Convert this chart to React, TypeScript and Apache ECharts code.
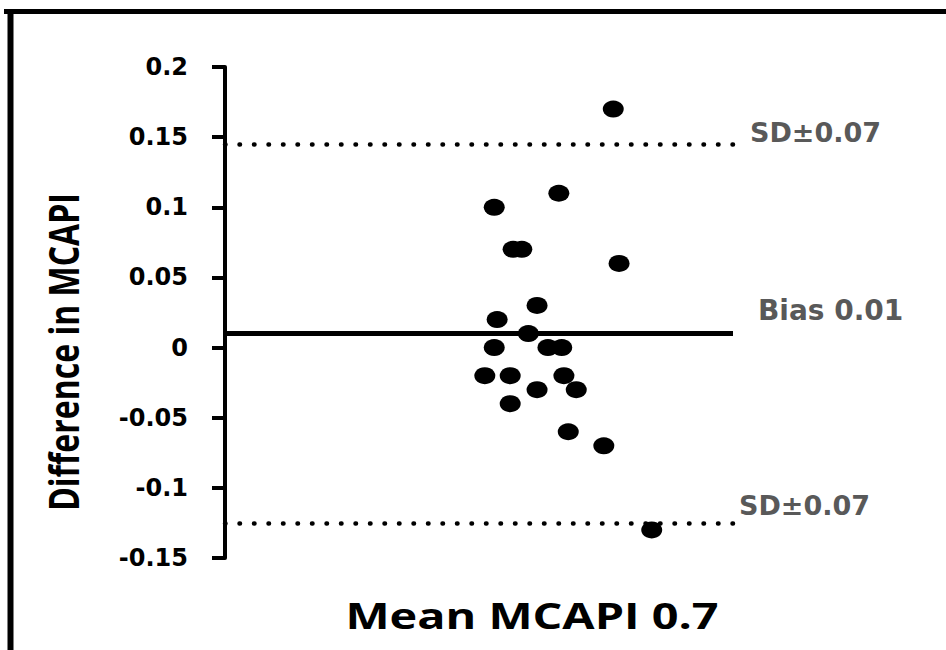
import React, { useEffect, useRef } from "react";
import * as echarts from "echarts";

// Bland-Altman data: mean MCAPI (x) and difference in MCAPI (y)
const meanValues = [0.835, 0.76, 0.671, 0.697, 0.709, 0.843, 0.73, 0.675, 0.718, 0.671, 0.745, 0.764, 0.658, 0.693, 0.767, 0.73, 0.784, 0.693, 0.773, 0.822, 0.888];
const diffValues = [0.17, 0.11, 0.1, 0.07, 0.07, 0.06, 0.03, 0.02, 0.01, 0, 0, 0, -0.02, -0.02, -0.02, -0.03, -0.03, -0.04, -0.06, -0.07, -0.13];

const biasValue = 0.01;
const upperLimit = 0.145;
const lowerLimit = -0.125;
const biasLabel = "Bias 0.01";
const upperLabel = "SD\u00b10.07";
const lowerLabel = "SD\u00b10.07";

const yMin = -0.15;
const yMax = 0.2;
const yInterval = 0.05;
const xMin = 0.3;
const xMax = 1.0;

const xTitle = "Mean MCAPI 0.7";
const yTitle = "Difference in MCAPI";

export default function App() {
  const ref = useRef<HTMLDivElement>(null);
  useEffect(() => {
    if (!ref.current) return;
    const chart = echarts.init(ref.current, null, { renderer: "svg" });
    const points = meanValues.map((x, i) => [x, diffValues[i]]);
    const labelStyle = {
      show: true,
      position: "end",
      distance: 0,
      color: "#595959",
      fontFamily: "DejaVu Sans",
      fontWeight: "bold",
      fontSize: 27,
      align: "left",
      verticalAlign: "middle",
    };
    const dotted = { color: "#000", width: 4.5, type: [0.5, 14], cap: "round" };
    chart.setOption({
      animation: false,
      backgroundColor: "#fff",
      grid: { left: 225, right: 213, top: 67, bottom: 92 },
      xAxis: { type: "value", min: xMin, max: xMax, show: false },
      yAxis: {
        type: "value",
        min: yMin,
        max: yMax,
        interval: yInterval,
        axisLine: { show: true, lineStyle: { color: "#000", width: 4 } },
        axisTick: { show: true, length: 13, lineStyle: { color: "#000", width: 4 } },
        splitLine: { show: false },
        axisLabel: {
          margin: 37,
          color: "#000",
          fontFamily: "DejaVu Sans",
          fontWeight: "bold",
          fontSize: 24,
        },
      },
      series: [
        {
          type: "scatter",
          data: points,
          symbol: "circle",
          symbolSize: [21, 17],
          itemStyle: { color: "#000", opacity: 1 },
          z: 5,
          markLine: {
            silent: true,
            symbol: "none",
            precision: 4,
            animation: false,
            data: [
              {
                yAxis: upperLimit,
                lineStyle: dotted,
                label: {
                  ...labelStyle,
                  formatter: upperLabel + "\n ",
                  lineHeight: 24,
                  padding: [0, 0, 0, 17],
                },
              },
              {
                yAxis: biasValue,
                lineStyle: { color: "#000", width: 5, type: "solid" },
                label: {
                  ...labelStyle,
                  fontSize: 28,
                  formatter: biasLabel + "\n ",
                  lineHeight: 46,
                  padding: [0, 0, 0, 25],
                },
              },
              {
                yAxis: lowerLimit,
                lineStyle: dotted,
                label: {
                  ...labelStyle,
                  formatter: lowerLabel + "\n ",
                  lineHeight: 34,
                  padding: [0, 0, 0, 6],
                },
              },
            ],
          },
        },
      ],
      graphic: [
        {
          type: "line",
          shape: { x1: 4, y1: 11.5, x2: 946, y2: 11.5 },
          style: { stroke: "#000", lineWidth: 5 },
        },
        {
          type: "line",
          shape: { x1: 10.5, y1: 9, x2: 10.5, y2: 650 },
          style: { stroke: "#000", lineWidth: 6 },
        },
        {
          type: "text",
          x: 532,
          y: 615,
          scaleX: 1.3,
          style: {
            text: xTitle,
            font: 'bold 36px "Open Sans"',
            fill: "#000",
            align: "center",
            verticalAlign: "middle",
          },
        },
        {
          type: "text",
          x: 63,
          y: 352,
          rotation: Math.PI / 2,
          scaleY: 1.3,
          style: {
            text: yTitle,
            font: 'bold 32px "Open Sans"',
            fill: "#000",
            align: "center",
            verticalAlign: "middle",
          },
        },
      ],
    });
    return () => chart.dispose();
  }, []);
  return (
    <div
      ref={ref}
      style={{ position: "fixed", left: 0, top: 0, width: 946, height: 650 }}
    />
  );
}
